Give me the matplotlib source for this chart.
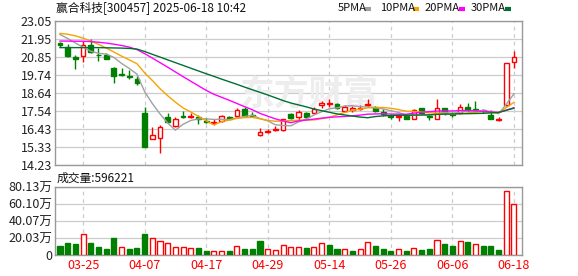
import numpy as np
import pandas as pd
import matplotlib
matplotlib.use("Agg")
import matplotlib.pyplot as plt
from matplotlib.lines import Line2D

plt.rcParams['font.family'] = ['Noto Sans CJK SC', 'DejaVu Sans']

# ---------- data ----------
dates = ["03-20", "03-21", "03-24", "03-25", "03-26", "03-27", "03-28", "03-31",
         "04-01", "04-02", "04-03", "04-07", "04-08", "04-09", "04-10", "04-11",
         "04-14", "04-15", "04-16", "04-17", "04-18", "04-21", "04-22", "04-23",
         "04-24", "04-25", "04-28", "04-29", "04-30", "05-06", "05-07", "05-08",
         "05-09", "05-12", "05-13", "05-14", "05-15", "05-16", "05-19", "05-20",
         "05-21", "05-22", "05-23", "05-26", "05-27", "05-28", "05-29", "05-30",
         "06-03", "06-04", "06-05", "06-06", "06-09", "06-10", "06-11", "06-12",
         "06-13", "06-16", "06-17", "06-18"]

opens = [21.70, 21.44, 20.82, 20.89, 21.58, 20.99, 20.99, 20.19, 19.78, 19.68,
         19.48, 17.41, 15.80, 15.86, 17.15, 16.62, 17.21, 17.17, 17.15, 16.95,
         16.82, 16.90, 17.19, 17.25, 17.66, 17.29, 16.05, 16.27, 16.35, 16.37,
         17.33, 17.15, 17.43, 17.43, 17.88, 17.97, 17.99, 17.56, 17.60, 17.68,
         17.92, 17.78, 17.48, 17.23, 17.15, 17.29, 17.07, 17.70, 17.21, 17.03,
         17.70, 17.37, 17.39, 17.76, 17.66, 17.58, 17.29, 17.01, 17.88, 20.56]
highs = [21.76, 21.64, 20.97, 21.85, 21.93, 21.38, 21.11, 20.25, 20.17, 20.05,
         19.68, 17.80, 16.54, 16.66, 17.39, 17.19, 17.52, 17.43, 17.29, 17.11,
         17.03, 17.29, 17.25, 17.70, 17.80, 17.45, 16.48, 16.43, 16.60, 17.07,
         17.43, 17.60, 17.50, 17.76, 18.17, 18.25, 18.05, 17.92, 17.84, 17.90,
         18.25, 17.86, 17.64, 17.33, 17.31, 17.33, 17.66, 17.74, 17.33, 18.27,
         17.74, 17.48, 17.94, 18.01, 18.15, 17.66, 17.60, 17.19, 20.46, 21.21]
lows = [21.48, 20.87, 20.13, 20.56, 21.07, 20.62, 20.70, 19.27, 19.70, 19.48,
        19.13, 15.33, 15.80, 14.99, 16.82, 16.58, 17.13, 17.11, 16.72, 16.82,
        16.68, 16.86, 17.03, 17.19, 17.23, 17.19, 16.01, 16.22, 16.33, 16.29,
        17.05, 16.99, 17.09, 17.39, 17.70, 17.80, 17.66, 17.48, 17.48, 17.60,
        17.76, 17.48, 17.23, 17.07, 16.90, 17.03, 17.03, 17.33, 16.97, 17.03,
        17.29, 17.19, 17.35, 17.50, 17.60, 17.43, 17.05, 16.90, 17.84, 20.19]
closes = [21.60, 20.93, 20.74, 21.56, 21.17, 20.95, 20.72, 19.70, 19.72, 19.62,
          19.23, 15.35, 16.05, 16.54, 16.84, 17.03, 17.17, 17.21, 17.03, 16.84,
          16.86, 17.23, 17.07, 17.60, 17.25, 17.23, 16.25, 16.31, 16.43, 17.03,
          17.13, 17.45, 17.19, 17.64, 18.05, 18.03, 17.74, 17.76, 17.72, 17.74,
          17.99, 17.52, 17.35, 17.17, 17.21, 17.07, 17.60, 17.39, 17.17, 17.70,
          17.41, 17.31, 17.76, 17.58, 17.62, 17.52, 17.07, 17.05, 20.46, 20.87]
# volume in 万 (10k shares)
volumes = [10.6, 14.1, 12.9, 24.2, 14.1, 9.4, 7.0, 19.9, 9.0, 7.0,
           8.2, 24.6, 19.5, 16.0, 13.7, 9.0, 9.0, 7.8, 8.2, 4.7,
           4.3, 4.3, 4.7, 10.2, 7.0, 7.0, 16.4, 6.6, 5.5, 11.3,
           9.0, 9.0, 7.8, 9.0, 13.7, 11.7, 7.0, 6.6, 4.7, 6.6,
           15.2, 10.6, 7.0, 4.7, 6.6, 4.7, 7.8, 5.9, 7.0, 17.2,
           12.9, 10.6, 16.0, 15.2, 12.9, 10.6, 10.6, 5.9, 74.7, 59.62]

# MA values before enough closes are in the window
ma5_head = [22.22, 21.98, 21.70, 21.45]
ma10_head = [22.29, 22.24, 22.14, 22.00, 21.83, 21.62, 21.40, 21.15, 20.90]
ma20_head = [21.82, 21.82, 21.81, 21.81, 21.79, 21.75, 21.70, 21.63, 21.55, 21.45,
             21.30, 21.05, 20.78, 20.50, 20.22, 19.93, 19.64, 19.36, 19.08]
ma30_head = [21.42, 21.42, 21.42, 21.42, 21.42, 21.42, 21.41, 21.40, 21.39, 21.37,
             21.33, 21.18, 21.01, 20.84, 20.67, 20.50, 20.33, 20.16, 19.99, 19.82,
             19.66, 19.49, 19.33, 19.17, 19.00, 18.84, 18.68, 18.52, 18.35]

ma_names = ["5PMA", "10PMA", "20PMA", "30PMA"]
ma_colors = ["#a0a0a0", "#f5a300", "#ff00ff", "#006f32"]

price_lo, price_hi = 14.23, 23.05
price_labels = ["14.23", "15.33", "16.43", "17.54", "18.64", "19.74", "20.85", "21.95", "23.05"]
vol_hi = 80.13
vol_labels = ["0", "20.03万", "40.07万", "60.10万", "80.13万"]

title = "赢合科技[300457] 2025-06-18 10:42"
vol_title = "成交量:596221"

RED = "#ff0000"
GREEN = "#008000"
GRID = "#cccccc"
FRAME = "#999999"


def moving_avg(n, head):
    s = pd.Series(closes).rolling(n).mean().to_numpy()
    s[:n - 1] = head
    return s


def style_axes(ax):
    for sp in ax.spines.values():
        sp.set_color(FRAME)
        sp.set_linewidth(1.0)
    ax.tick_params(length=0, labelsize=9, colors="#222222", pad=2)
    ax.grid(True, axis="y", color=GRID, lw=0.9, zorder=0)
    ax.grid(True, axis="x", color=GRID, lw=0.9, ls=(0, (3, 3)), zorder=0)
    ax.set_axisbelow(True)


# ---------- figure ----------
fig = plt.figure(figsize=(5.78, 2.76), dpi=100)
ax = fig.add_axes([55 / 578, 1 - 165 / 276, 467 / 578, 144 / 276])
axv = fig.add_axes([55 / 578, 1 - 255 / 276, 467 / 578, 68.5 / 276])

x = np.arange(len(closes))
o = np.array(opens); h = np.array(highs); l = np.array(lows); c = np.array(closes)
up = c >= o

# watermark
ax.text(0.545, 0.49, "东方财富", transform=ax.transAxes, fontsize=25, color="#ededed",
        ha="center", va="center", fontweight="bold", zorder=1)

# candles
w = 0.62
ax.vlines(x, l, h, colors=[RED if u else GREEN for u in up], lw=1.0, zorder=3)
ax.bar(x[up], np.maximum(c[up] - o[up], 0.01), bottom=o[up], width=w,
       facecolor="white", edgecolor=RED, linewidth=1.0, zorder=4)
ax.bar(x[~up], np.maximum(o[~up] - c[~up], 0.01), bottom=c[~up], width=w,
       facecolor=GREEN, edgecolor=GREEN, linewidth=1.0, zorder=4)

# moving averages
for n, head, col in zip([5, 10, 20, 30], [ma5_head, ma10_head, ma20_head, ma30_head], ma_colors):
    ax.plot(x, moving_avg(n, head), color=col, lw=1.0, zorder=5)

ax.set_xlim(-0.65, 60.05)
ax.set_ylim(price_lo, price_hi)
ax.set_yticks(np.linspace(price_lo, price_hi, len(price_labels)))
ax.set_yticklabels(price_labels)
ax.set_xticks(x[3::8])
ax.set_xticklabels([])
style_axes(ax)

# volume
prev = np.r_[o[0], c[:-1]]
vup = c >= prev
vol = np.array(volumes)
axv.bar(x[vup], vol[vup], width=0.66, facecolor="white", edgecolor=RED, linewidth=1.0, zorder=3)
axv.bar(x[~vup], vol[~vup], width=0.66, facecolor=GREEN, edgecolor=GREEN, linewidth=1.0, zorder=3)
axv.set_xlim(-0.65, 60.05)
axv.set_ylim(0, vol_hi)
axv.set_yticks(np.linspace(0, vol_hi, len(vol_labels)))
axv.set_yticklabels(vol_labels)
axv.set_xticks(x[3::8])
axv.set_xticklabels([dates[i] for i in x[3::8]])
style_axes(axv)
axv.tick_params(axis="x", colors=RED, pad=3)

# header texts
fig.text(56 / 578, 1 - 8 / 276, title, fontsize=8.5, color="#111111", ha="left", va="center")
fig.text(57 / 578, 1 - 178 / 276, vol_title, fontsize=8.5, color="#111111", ha="left", va="center")

leg_x = [338, 380, 425, 471]
dash_x = [365, 413, 459, 505]
for name, col, tx, dx in zip(ma_names, ma_colors, leg_x, dash_x):
    fig.text(tx / 578, 1 - 8 / 276, name, fontsize=8, color="#111111", ha="left", va="center")
    fig.add_artist(Line2D([dx / 578, (dx + 6) / 578], [1 - 9 / 276, 1 - 9 / 276],
                          transform=fig.transFigure, color=col, lw=3, solid_capstyle="butt"))

fig.savefig("out.png", dpi=100)
